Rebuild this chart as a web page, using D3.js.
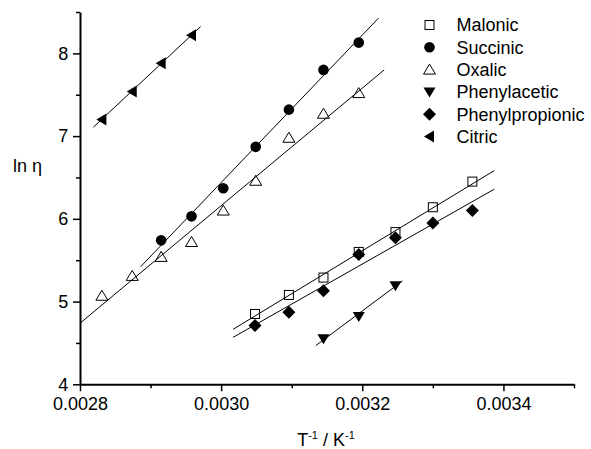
<!DOCTYPE html>
<html><head><meta charset="utf-8">
<script src="https://cdn.jsdelivr.net/npm/d3@7"></script>
<style>body{margin:0;background:#fff}svg{display:block}text{font-family:"Liberation Sans",Arial,sans-serif}</style>
</head><body><svg id="c" width="591" height="449"></svg>
<script>
const seriesNames = ["Malonic","Succinic","Oxalic","Phenylacetic","Phenylpropionic","Citric"];
const seriesSymbols = ["squareOpen","circle","triUpOpen","triDown","diamond","triLeft"];
const malonicX = [0.003048,0.003096,0.003145,0.003195,0.003247,0.003300,0.003356];
const malonicY = [4.85,5.08,5.29,5.60,5.84,6.14,6.45];
const succinicX = [0.002915,0.002958,0.003003,0.003049,0.003096,0.003145,0.003195];
const succinicY = [5.74,6.03,6.37,6.87,7.32,7.80,8.13];
const oxalicX = [0.002831,0.002874,0.002915,0.002958,0.003003,0.003049,0.003096,0.003145,0.003195];
const oxalicY = [5.07,5.31,5.54,5.72,6.10,6.46,6.98,7.27,7.52];
const phenylaceticX = [0.003145,0.003195,0.003247];
const phenylaceticY = [4.55,4.82,5.19];
const phenylpropionicX = [0.003048,0.003096,0.003145,0.003195,0.003247,0.003300,0.003356];
const phenylpropionicY = [4.71,4.87,5.13,5.57,5.77,5.95,6.10];
const citricX = [0.002831,0.002874,0.002915,0.002958];
const citricY = [7.20,7.54,7.88,8.22];
// fitted lines, endpoints [x0,y0,x1,y1] in data units
const fitMalonic = [0.003017,4.665,0.003387,6.583];
const fitSuccinic = [0.002886,5.422,0.003223,8.426];
const fitOxalic = [0.002800,4.738,0.003231,7.800];
const fitPhenylacetic = [0.003134,4.467,0.003257,5.249];
const fitPhenylpropionic = [0.003017,4.568,0.003387,6.358];
const fitCitric = [0.002819,7.108,0.002971,8.324];
const xTicks = [0.0028,0.0030,0.0032,0.0034];
const xMinor = [0.0029,0.0031,0.0033,0.0035];
const yTicks = [4,5,6,7,8];
const yMinor = [4.5,5.5,6.5,7.5,8.5];

const xs = [malonicX,succinicX,oxalicX,phenylaceticX,phenylpropionicX,citricX];
const ys = [malonicY,succinicY,oxalicY,phenylaceticY,phenylpropionicY,citricY];
const fits = [fitMalonic,fitSuccinic,fitOxalic,fitPhenylacetic,fitPhenylpropionic,fitCitric];

const svg = d3.select("#c");
const x = d3.scaleLinear().domain([0.0028,0.0035]).range([80,574]);
const y = d3.scaleLinear().domain([4,8.5]).range([384.3,12]);

function sym(g, type, cx, cy){
  let el;
  if(type==="squareOpen"){
    el = g.append("rect").attr("x",cx-4.5).attr("y",cy-4.5).attr("width",9).attr("height",9).attr("fill","none").attr("stroke","#000").attr("stroke-width",1);
  } else if(type==="circle"){
    el = g.append("circle").attr("cx",cx).attr("cy",cy).attr("r",5.3).attr("fill","#000");
  } else {
    let p;
    if(type==="triUpOpen") p=[[cx,cy-5.5],[cx+6,cy+4.5],[cx-6,cy+4.5]];
    if(type==="triDown") p=[[cx-6,cy-4.5],[cx+6,cy-4.5],[cx,cy+5.5]];
    if(type==="triLeft") p=[[cx-5.5,cy],[cx+4.5,cy-6],[cx+4.5,cy+6]];
    if(type==="diamond") p=[[cx,cy-6.5],[cx+6.5,cy],[cx,cy+6.5],[cx-6.5,cy]];
    el = g.append("path").attr("d","M"+p.map(q=>q.join(",")).join("L")+"Z");
    if(type==="triUpOpen") el.attr("fill","none").attr("stroke","#000").attr("stroke-width",1);
    else el.attr("fill","#000");
  }
  return el;
}

// fit lines
const lg = svg.append("g");
fits.forEach(f=>{
  lg.append("line").attr("x1",x(f[0])).attr("y1",y(f[1])).attr("x2",x(f[2])).attr("y2",y(f[3]))
    .attr("stroke","#000").attr("stroke-width",1);
});
// points
const pg = svg.append("g");
xs.forEach((arr,i)=>{
  arr.forEach((v,j)=> sym(pg, seriesSymbols[i], x(v), y(ys[i][j])));
});

// axes
const xAxis = svg.append("g").attr("transform","translate(0,384.3)")
  .call(d3.axisBottom(x).tickValues(xTicks).tickFormat(d3.format(".4f")).tickSize(7).tickSizeOuter(0));
svg.append("g").attr("transform","translate(0,384.3)")
  .call(d3.axisBottom(x).tickValues(xMinor).tickFormat("").tickSize(4).tickSizeOuter(0)).select(".domain").remove();
const yAxis = svg.append("g").attr("transform","translate(80,0)")
  .call(d3.axisLeft(y).tickValues(yTicks).tickFormat(d3.format("d")).tickSize(7).tickSizeOuter(0));
svg.append("g").attr("transform","translate(80,0)")
  .call(d3.axisLeft(y).tickValues(yMinor).tickFormat("").tickSize(4).tickSizeOuter(0)).select(".domain").remove();
svg.selectAll(".domain").attr("stroke-width",2);
svg.selectAll(".tick line").attr("stroke-width",1.5);
xAxis.selectAll("text").attr("font-size",18).attr("font-family","Liberation Sans, Arial").attr("dy","0.9em");
yAxis.selectAll("text").attr("font-size",18).attr("font-family","Liberation Sans, Arial").attr("dx","-0.1em");

// axis titles
svg.append("text").attr("x",13).attr("y",172).attr("font-size",18).text("ln η");
const xt = svg.append("text").attr("x",326).attr("y",446).attr("font-size",18).attr("text-anchor","middle");
xt.append("tspan").text("T");
xt.append("tspan").attr("font-size",11).attr("dy",-7).text("-1");
xt.append("tspan").attr("dy",7).text(" / K");
xt.append("tspan").attr("font-size",11).attr("dy",-7).text("-1");

// legend
const leg = svg.append("g");
seriesNames.forEach((n,i)=>{
  const cy = 25 + i*22.3;
  sym(leg, seriesSymbols[i], 429.5, cy);
  leg.append("text").attr("x",456.5).attr("y",cy+6.3).attr("font-size",18).text(n);
});
</script></body></html>
